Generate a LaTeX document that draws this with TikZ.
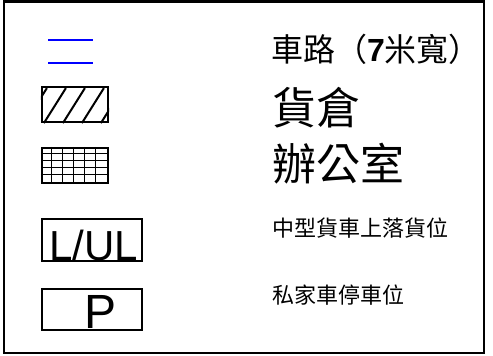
\documentclass[tikz,border=0pt]{standalone}
\usepackage{fontspec}
\setmainfont{Liberation Sans}
\newfontfamily\cjk{Noto Sans CJK TC}
\usepackage{tikz}
\usetikzlibrary{positioning}

\begin{document}
\begin{tikzpicture}[
    x=1pt, y=-1pt,
    legend/.style={anchor=west, inner sep=0pt, font=\cjk},
    symbox/.style={draw, line width=2.2pt, inner sep=0pt},
    road/.style={blue, line width=2.5pt},
    tag/.style={anchor=base, inner sep=0pt}
]
    \useasboundingbox (0,0) rectangle (493,356);
    \draw[line width=2.6pt] (4,1.5) rectangle (484,353);

    % Symbols
    \coordinate (roadA) at (48,40);
    \coordinate (roadB) at (48,63);
    \node (store) [symbox, minimum width=66, minimum height=35] at (75,104.5) {};
    \node (office) [symbox, minimum width=66, minimum height=35] at (75,165.5) {};
    \node (lorry) [symbox, minimum width=100, minimum height=42] at (92,240) {};
    \node (car) [symbox, minimum width=100, minimum height=41] at (92,309.5) {};
    \node (lorrytag) [tag, font=\fontsize{42}{42}\selectfont] at (94,260) {L/UL};
    \node (cartag) [tag, font=\fontsize{48}{48}\selectfont] at (101,328) {P};

    \draw[road] (roadA) -- ++(45,0);
    \draw[road] (roadB) -- ++(45,0);

    \begin{scope}
        \clip (store.south west) rectangle (store.north east);
        \foreach \dx in {-16,3,22,41,60}
            \draw[line width=2pt] ([xshift=\dx pt]store.south west) -- ++(22,-35);
    \end{scope}

    \foreach \i in {1,...,5}
        \draw[line width=1pt] ([xshift=\i*11pt]office.north west) -- ([xshift=\i*11pt]office.south west);
    \foreach \j in {1,...,4}
        \draw[line width=1pt] ([yshift=-\j*7pt]office.north west) -- ([yshift=-\j*7pt]office.north east);

    % Labels
    \node (roadtxt) [legend, font=\cjk\fontsize{32}{32}\selectfont] at (271,49) {車路（{\rmfamily\bfseries 7}米寬）};
    \node (storetxt) [legend, font=\cjk\fontsize{44}{44}\selectfont] at (272,108) {貨倉};
    \node (officetxt) [legend, font=\cjk\fontsize{44}{44}\selectfont] at (272,164) {辦公室};
    \node (lorrytxt) [legend, font=\cjk\fontsize{22}{22}\selectfont] at (272,228) {中型貨車上落貨位};
    \node (cartxt) [legend, font=\cjk\fontsize{22}{22}\selectfont] at (272,295) {私家車停車位};
\end{tikzpicture}
\end{document}
